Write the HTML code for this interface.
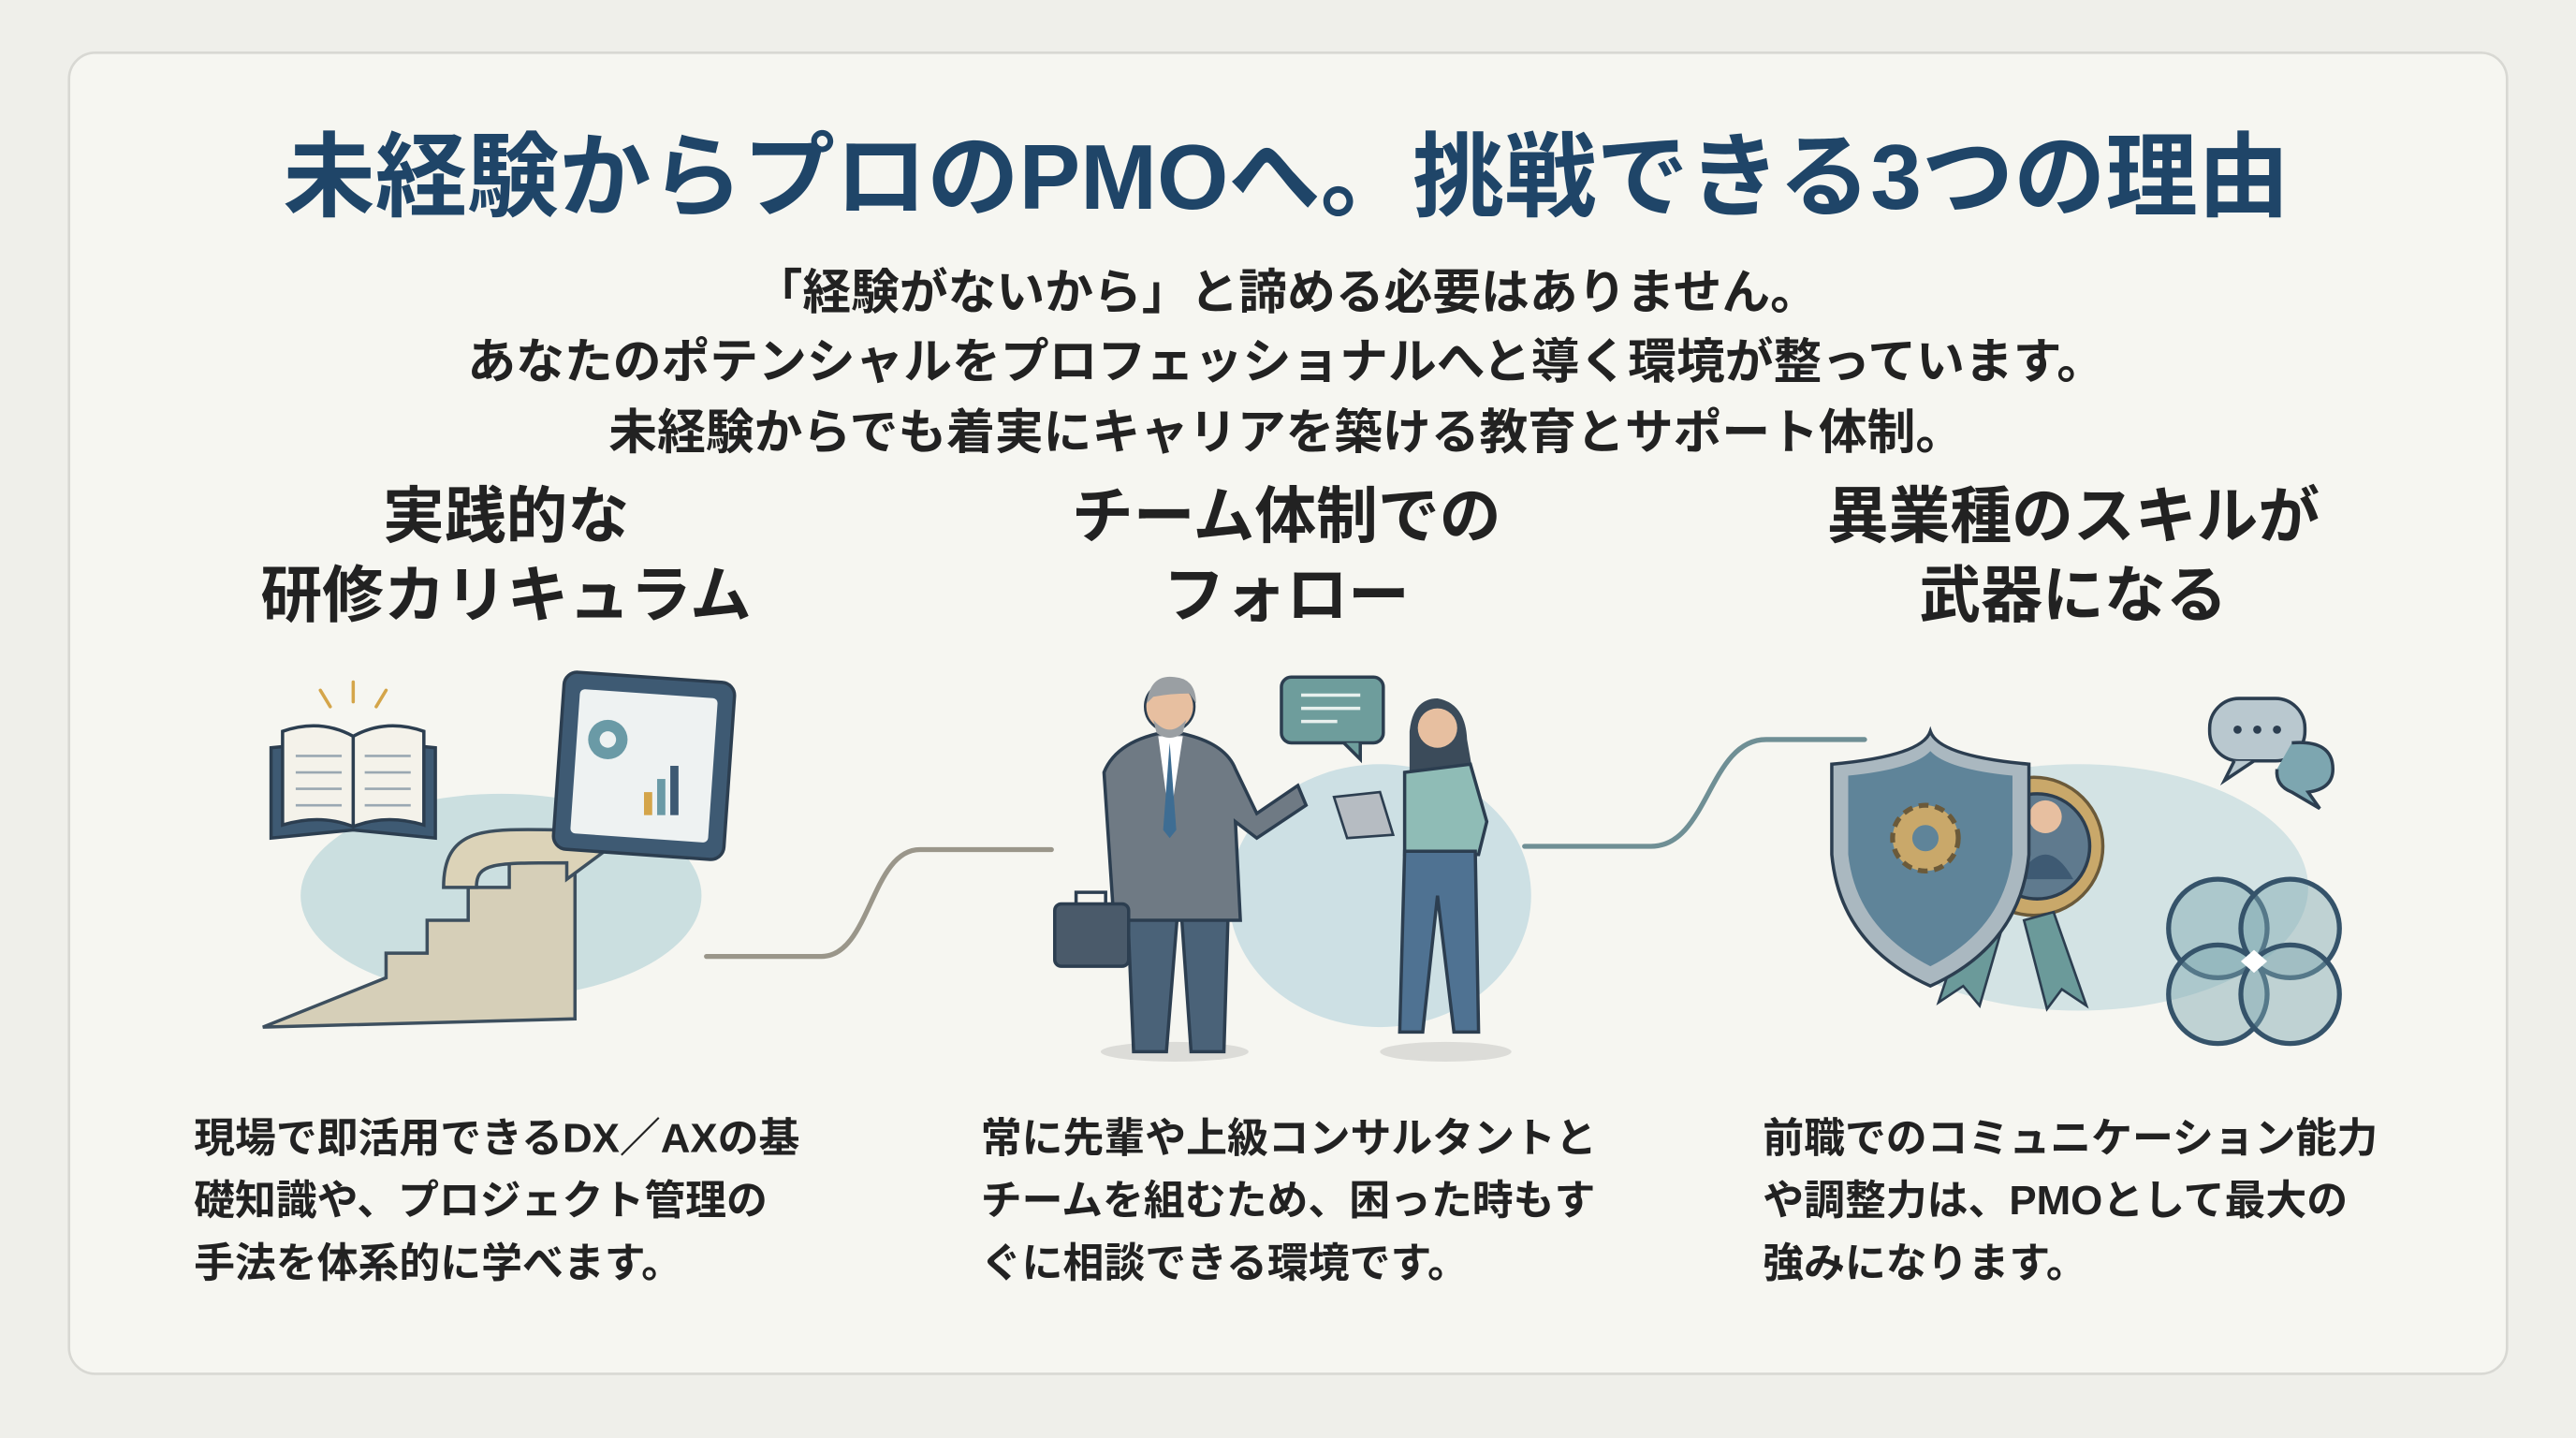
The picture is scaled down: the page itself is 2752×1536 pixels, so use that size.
<!DOCTYPE html>
<html><head><meta charset="utf-8"><style>
html,body{margin:0;padding:0;background:#efefea;}
svg{display:block}
text{font-family:"Liberation Sans","Noto Sans CJK JP",sans-serif;font-weight:bold}
</style></head><body>
<svg width="2752" height="1536" viewBox="0 0 1568 875" xmlns="http://www.w3.org/2000/svg">
<rect x="0" y="0" width="1568" height="875" fill="#efefea"/>
<rect x="42" y="32" width="1484" height="804" rx="16" fill="#f6f6f1" stroke="#d8d8d3" stroke-width="1.5"/>
<text x="783" y="127" font-size="56" fill="#1f4568" text-anchor="middle">未経験からプロのPMOへ。挑戦できる3つの理由</text>
<g font-size="29.5" fill="#222" text-anchor="middle">
<text x="783" y="188">「経験がないから」と諦める必要はありません。</text>
<text x="783" y="230">あなたのポテンシャルをプロフェッショナルへと導く環境が整っています。</text>
<text x="783" y="273">未経験からでも着実にキャリアを築ける教育とサポート体制。</text>
</g>
<g font-size="37.5" fill="#222" text-anchor="middle">
<text x="308" y="327">実践的な</text><text x="308" y="375">研修カリキュラム</text>
<text x="783" y="327">チーム体制での</text><text x="783" y="375">フォロー</text>
<text x="1262" y="327">異業種のスキルが</text><text x="1262" y="375">武器になる</text>
</g>
<g font-size="25" fill="#222">
<text x="118" y="701">現場で即活用できるDX／AXの基</text>
<text x="118" y="739">礎知識や、プロジェクト管理の</text>
<text x="118" y="777">手法を体系的に学べます。</text>
<text x="597" y="701">常に先輩や上級コンサルタントと</text>
<text x="597" y="739">チームを組むため、困った時もす</text>
<text x="597" y="777">ぐに相談できる環境です。</text>
<text x="1073" y="701">前職でのコミュニケーション能力</text>
<text x="1073" y="739">や調整力は、PMOとして最大の</text>
<text x="1073" y="777">強みになります。</text>
</g>
<!-- connectors -->
<path d="M430 582 L500 582 C530 582 530 517 560 517 L640 517" fill="none" stroke="#9a968a" stroke-width="3" stroke-linecap="round"/>
<path d="M928 515 L1005 515 C1040 515 1040 450 1075 450 L1135 450" fill="none" stroke="#6f8f95" stroke-width="3" stroke-linecap="round"/>
<!-- col1 -->
<ellipse cx="305" cy="545" rx="122" ry="62" fill="#cbdfe0"/>
<path d="M160 625 L235 595 L235 580 L260 580 L260 560 L285 560 L285 540 L310 540 L310 520 L350 505 L350 620 Z" fill="#d6cfb8" stroke="#3d4f5e" stroke-width="2"/>
<path d="M270 540 C270 500 300 505 345 505 L345 495 L372 515 L345 535 L345 525 C300 525 290 525 290 540 Z" fill="#dcd3b8" stroke="#3d4f5e" stroke-width="2"/>
<path d="M165 455 L165 510 L215 505 L265 510 L265 455 L215 450 Z" fill="#3e5a73" stroke="#2c3e50" stroke-width="2"/>
<path d="M172 445 Q195 437 215 448 Q235 437 258 445 L258 502 Q235 495 215 503 Q195 495 172 502 Z" fill="#f4f2ea" stroke="#2c3e50" stroke-width="2"/>
<path d="M215 448 L215 503" stroke="#2c3e50" stroke-width="2"/>
<g stroke="#9aa8b2" stroke-width="1.5"><path d="M180 460h28M180 470h28M180 480h28M180 490h28M222 460h28M222 470h28M222 480h28M222 490h28"/></g>
<g stroke="#d4a54a" stroke-width="2" stroke-linecap="round"><path d="M215 415v12M195 420l6 10M235 420l-6 10"/></g>
<rect x="340" y="412" width="104" height="108" rx="8" fill="#3e5a73" stroke="#2c3e50" stroke-width="2" transform="rotate(4 392 466)"/>
<rect x="350" y="422" width="84" height="88" rx="3" fill="#eef2f2" transform="rotate(4 392 466)"/>
<circle cx="370" cy="450" r="12" fill="#6a9aa6"/><circle cx="370" cy="450" r="5" fill="#eef2f2"/>
<rect x="392" y="482" width="5" height="14" fill="#d4a54a"/><rect x="400" y="474" width="5" height="22" fill="#6a9aa6"/><rect x="408" y="466" width="5" height="30" fill="#3e5a73"/>
<!-- col2 -->
<ellipse cx="840" cy="545" rx="92" ry="80" fill="#cde0e4"/>
<ellipse cx="715" cy="640" rx="45" ry="6" fill="#dcdcd8"/><ellipse cx="880" cy="640" rx="40" ry="6" fill="#dcdcd8"/>
<path d="M683 475 L690 640 L710 640 L718 540 L725 640 L745 640 L750 475 Z" fill="#4a6278" stroke="#2c3e50" stroke-width="2"/>
<path d="M672 470 Q680 450 712 445 Q745 450 752 468 L765 495 L790 478 L795 490 L765 510 L752 500 L755 560 L678 560 Z" fill="#6f7a84" stroke="#2c3e50" stroke-width="2"/>
<path d="M705 448 L712 500 L720 448 Z" fill="#fff"/><path d="M712 452 L716 505 L712 510 L708 505 Z" fill="#3e6d93"/>
<circle cx="712" cy="430" r="15" fill="#e7bfa0" stroke="#2c3e50" stroke-width="1.5"/>
<path d="M698 428 Q700 410 715 412 Q728 413 728 428 L724 422 Q712 422 702 424 Z" fill="#9a9fa3"/>
<path d="M702 438 Q712 450 722 438 L720 446 Q712 452 704 446 Z" fill="#9a9fa3"/>
<rect x="642" y="550" width="45" height="38" rx="4" fill="#4a5a6a" stroke="#2c3e50" stroke-width="2"/>
<path d="M655 550 v-7 h18 v7" fill="none" stroke="#2c3e50" stroke-width="2"/>
<rect x="780" y="412" width="62" height="40" rx="6" fill="#6e9d9c" stroke="#2c3e50" stroke-width="2"/>
<path d="M818 452 L828 462 L828 452" fill="#6e9d9c" stroke="#2c3e50" stroke-width="2"/>
<g stroke="#e8f0ee" stroke-width="2"><path d="M792 423h36M792 431h36M792 439h22"/></g>
<path d="M858 445 Q860 425 875 425 Q892 428 893 450 L900 490 L858 490 Z" fill="#3b4b5a"/>
<circle cx="875" cy="443" r="12" fill="#e7bfa0"/>
<path d="M855 470 L895 465 L905 500 L900 520 L855 520 Z" fill="#8fbcb6" stroke="#2c3e50" stroke-width="2"/>
<path d="M855 518 L852 628 L866 628 L875 545 L885 628 L900 628 L898 518 Z" fill="#4f7292" stroke="#2c3e50" stroke-width="2"/>
<path d="M812 485 L840 482 L848 508 L820 510 Z" fill="#b6bcc2" stroke="#2c3e50" stroke-width="1.5"/>
<!-- col3 -->
<ellipse cx="1265" cy="540" rx="140" ry="75" fill="#d3e3e4"/>
<circle cx="1238" cy="515" r="42" fill="#c9a86a" stroke="#6b5a3a" stroke-width="2"/>
<circle cx="1240" cy="515" r="32" fill="#5f7a8e" stroke="#2c3e50" stroke-width="2"/>
<circle cx="1245" cy="497" r="10" fill="#e7bfa0"/><path d="M1228 535 Q1245 505 1262 535 Z" fill="#3e5a73"/>
<path d="M1200 550 L1180 610 L1195 600 L1205 612 L1220 560 Z" fill="#6b9a9a" stroke="#2c3e50" stroke-width="1.5"/>
<path d="M1250 555 L1270 612 L1255 602 L1246 614 L1232 560 Z" fill="#6b9a9a" stroke="#2c3e50" stroke-width="1.5"/>
<path d="M1115 465 Q1170 460 1175 445 Q1180 460 1235 465 L1235 520 Q1230 575 1175 600 Q1120 575 1115 520 Z" fill="#aab8c0" stroke="#2c3e50" stroke-width="2"/>
<path d="M1125 472 Q1165 468 1175 457 Q1185 468 1225 472 L1225 520 Q1220 565 1175 588 Q1130 565 1125 520 Z" fill="#5f8499"/>
<circle cx="1172" cy="510" r="20" fill="#c9a86a" stroke="#6b5a3a" stroke-width="3" stroke-dasharray="6 4"/>
<circle cx="1172" cy="510" r="8" fill="#5f8499"/>
<g fill="none" stroke="#35536a" stroke-width="3">
<circle cx="1350" cy="565" r="30" fill="#7da6b0" fill-opacity="0.45"/><circle cx="1394" cy="565" r="30" fill="#7da6b0" fill-opacity="0.45"/>
<circle cx="1350" cy="605" r="30" fill="#7da6b0" fill-opacity="0.45"/><circle cx="1394" cy="605" r="30" fill="#7da6b0" fill-opacity="0.45"/>
</g>
<path d="M1372 578 L1380 585 L1372 592 L1364 585 Z" fill="#fff"/>
<rect x="1345" y="425" width="58" height="38" rx="18" fill="#b9c8cf" stroke="#2c3e50" stroke-width="2"/>
<path d="M1360 463 L1354 475 L1372 463" fill="#b9c8cf" stroke="#2c3e50" stroke-width="2"/>
<g fill="#2c3e50"><circle cx="1362" cy="444" r="2.5"/><circle cx="1374" cy="444" r="2.5"/><circle cx="1386" cy="444" r="2.5"/></g>
<path d="M1395 452 Q1420 450 1420 468 Q1420 480 1405 482 L1412 492 L1395 482 Q1385 478 1386 468" fill="#7da6b0" stroke="#2c3e50" stroke-width="2"/>
</svg>
</body></html>
